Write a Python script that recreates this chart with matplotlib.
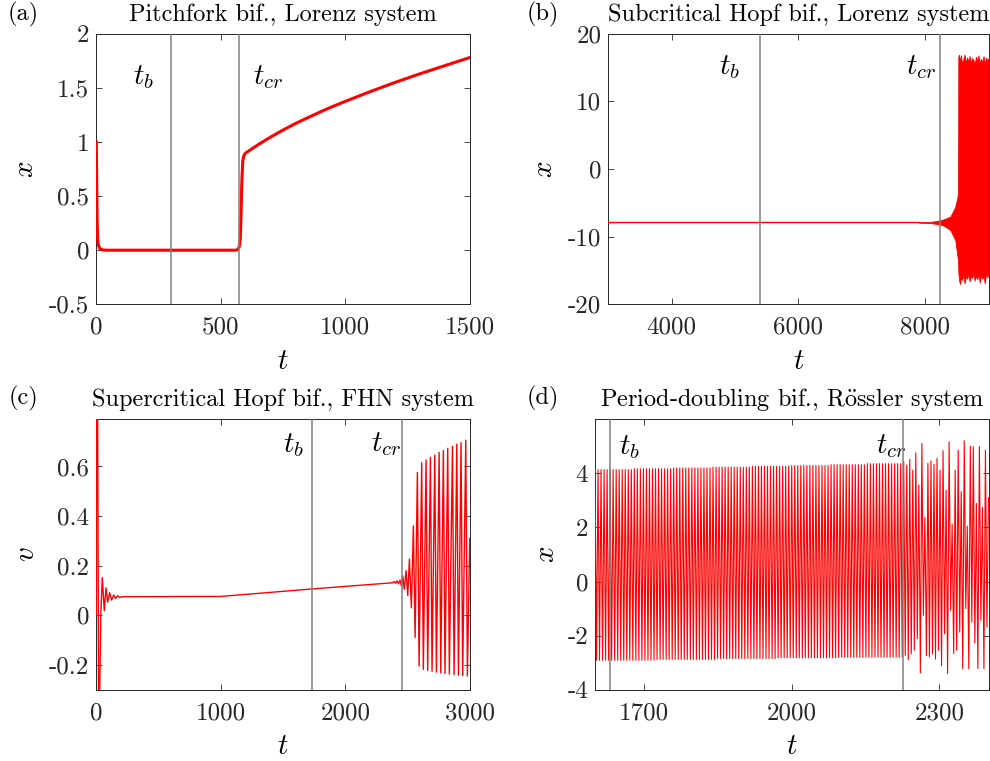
import numpy as np
import matplotlib
matplotlib.use('Agg')
import matplotlib.pyplot as plt

# ---------------- data ----------------
# (a) pitchfork, Lorenz
a_t = [0, 1.5, 3, 5, 8, 14, 25, 40, 560, 568, 574, 578, 581, 584, 588, 592, 598,
       650, 700, 750, 800, 850, 900, 950, 1000, 1100, 1200, 1300, 1400, 1500]
a_x = [1.0, 0.6, 0.3, 0.12, 0.05, 0.015, 0.003, 0.0, 0.0, 0.005, 0.03, 0.1, 0.3, 0.6, 0.82, 0.87, 0.895,
       0.975, 1.045, 1.11, 1.17, 1.225, 1.278, 1.328, 1.375, 1.465, 1.55, 1.63, 1.705, 1.78]
a_tb, a_tcr = 301, 572

# (b) subcritical Hopf, Lorenz
b_base_t = [3000, 7900]
b_base_x = [-7.9, -7.9]
b_flare_t = [7900, 8100, 8230, 8300, 8395, 8474, 8510, 8518]
b_flare_hi = [-7.88, -7.8, -7.6, -7.4, -7.05, -5.6, -4.1, -3.5]
b_flare_lo = [-7.92, -8.0, -8.2, -8.4, -9.0, -10.5, -13.0, -13.5]
b_burst_t = [8522, 8535, 8550, 8565, 8580, 8600, 8620, 8640, 8660, 8680, 8700, 8720, 8740,
             8760, 8780, 8800, 8820, 8840, 8860, 8880, 8900, 8920, 8940, 8960, 8980, 9000]
b_burst_hi = [16.6, 16.9, 15.8, 16.8, 15.5, 16.2, 16.9, 15.7, 16.5, 15.9, 16.7, 15.6, 16.4,
              16.1, 15.5, 16.6, 16.0, 16.8, 15.6, 16.3, 15.8, 16.7, 15.4, 16.5, 15.9, 16.4]
b_burst_lo = [-15.2, -16.5, -17.0, -15.8, -16.4, -15.6, -16.9, -15.9, -16.2, -15.5, -16.6, -15.8, -16.1,
              -15.4, -16.5, -15.7, -16.3, -15.5, -16.8, -15.6, -16.2, -15.9, -16.9, -15.4, -16.0, -15.3]
b_tb, b_tcr = 5400, 8230

# (c) supercritical Hopf, FHN
c_t = [0, 2, 10, 14, 18, 26, 36, 48, 64, 78, 91, 107, 123, 139, 155, 171, 187, 210,
       1000, 1730, 2380, 2392, 2404, 2416, 2428, 2440, 2452, 2462, 2474, 2488, 2502, 2515,
       2531, 2547, 2561, 2579, 2593, 2614, 2627, 2649, 2662, 2684, 2697, 2719, 2732, 2754,
       2767, 2788, 2801, 2823, 2836, 2861, 2874, 2896, 2909, 2930, 2943, 2968, 2981, 3000]
c_v = [0.0, 0.9, 0.85, 0.3, -0.35, -0.35, 0.0, 0.152, 0.019, 0.111, 0.053, 0.091, 0.061, 0.082,
       0.068, 0.079, 0.072, 0.075, 0.076, 0.106, 0.131, 0.136, 0.129, 0.139, 0.127, 0.142, 0.118,
       0.158, 0.105, 0.18, 0.08, 0.226, 0.03, 0.36, -0.09, 0.576, -0.205, 0.615, -0.218, 0.626,
       -0.222, 0.637, -0.226, 0.646, -0.229, 0.657, -0.232, 0.664, -0.235, 0.673, -0.237, 0.681,
       -0.239, 0.69, -0.241, 0.696, -0.243, 0.706, -0.245, 0.31]
c_tb, c_tcr = 1730, 2452

# (d) period doubling, Roessler: one peak and one trough per cycle
d_t0 = 1600
d_period = 6.15
d_peaks = ([4.14] * 13 + [4.17] * 13 + [4.20] * 13 + [4.23] * 13 + [4.26] * 13 + [4.29] * 13
           + [4.32] * 12 + [4.36] * 12
           + [4.43, 4.31, 4.52, 4.12, 4.76, 3.57, 5.11, 2.37, 4.37, 4.46, 4.33, 4.56, 4.12, 4.84,
              3.38, 5.17, 2.12, 4.12, 4.86, 3.32, 5.21, 2.05, 5.01, 4.99, 2.89, 4.99, 2.74, 4.86, 3.1])
d_troughs = ([-2.91] * 20 + [-2.88] * 20 + [-2.85] * 20 + [-2.82] * 20 + [-2.80] * 22
             + [-2.73, -2.89, -2.67, -2.54, -2.11, -3.38, -1.25, -2.74, -2.79, -2.67, -2.87, -2.54,
                -3.12, -1.93, -3.41, -1.06, -2.67, -2.54, -1.87, -3.22, -1.0, -3.22, -1.5, -2.27,
                -3.22, -1.43, -3.22, -1.68])
d_tb, d_tcr = 1630, 2225

# ---------------- style ----------------
plt.rcParams['font.family'] = 'serif'
plt.rcParams['font.serif'] = ['cmr10']
plt.rcParams['mathtext.fontset'] = 'cm'
plt.rcParams['axes.unicode_minus'] = False
plt.rcParams['axes.formatter.use_mathtext'] = True

RED = '#ff0000'
GREY = '#808080'
AX = '#262626'
TICK_FS = 18
TITLE_FS = 17.5
LAB_FS = 21


def style(ax, xlim, ylim, xt, xtl, yt, ytl, xlab_y, ylab_x, ylab):
    ax.set_xlim(*xlim)
    ax.set_ylim(*ylim)
    ax.set_xticks(xt)
    ax.set_xticklabels(xtl)
    ax.set_yticks(yt)
    ax.set_yticklabels(ytl)
    ax.tick_params(direction='in', top=True, right=True, length=4, width=0.6,
                   color=AX, labelsize=TICK_FS, labelcolor='#262626')
    ax.tick_params(axis='x', pad=9)
    ax.tick_params(axis='y', pad=5)
    for s in ax.spines.values():
        s.set_color(AX)
        s.set_linewidth(0.7)
    ax.set_xlabel(r'$t$', fontsize=LAB_FS)
    ax.xaxis.set_label_coords(0.5, xlab_y)
    ax.xaxis.label.set_va('center')
    ax.set_ylabel(ylab, fontsize=LAB_FS)
    ax.yaxis.set_label_coords(ylab_x, 0.5)
    ax.yaxis.label.set_va('center')


def marks(ax, tb, tcr, tb_xy, tcr_xy):
    ax.axvline(tb, color=GREY, lw=1.1, zorder=4)
    ax.axvline(tcr, color=GREY, lw=1.1, zorder=4)
    ax.text(tb_xy[0], tb_xy[1], r'$t_b$', fontsize=LAB_FS, ha='left', va='center')
    ax.text(tcr_xy[0], tcr_xy[1], r'$t_{cr}$', fontsize=LAB_FS, ha='left', va='center')


fig = plt.figure(figsize=(9.9, 7.61), dpi=100)
ax_a = fig.add_axes([0.0973, 0.6001, 0.3772, 0.3556])
ax_b = fig.add_axes([0.6144, 0.6001, 0.3842, 0.3556])
ax_c = fig.add_axes([0.0973, 0.0937, 0.3772, 0.3553])
ax_d = fig.add_axes([0.6010, 0.0937, 0.3977, 0.3553])

# (a)
ax_a.plot(a_t, a_x, color=RED, lw=2.2, zorder=3)
marks(ax_a, a_tb, a_tcr, (147, 1.6), (631, 1.6))
style(ax_a, (0, 1500), (-0.5, 2), [0, 500, 1000, 1500], ['0', '500', '1000', '1500'],
      [-0.5, 0, 0.5, 1, 1.5, 2], ['-0.5', '0', '0.5', '1', '1.5', '2'], -0.212, -0.189, r'$x$')
ax_a.set_title('Pitchfork bif., Lorenz system', fontsize=TITLE_FS, pad=9.5)

# (b)
ax_b.plot(b_base_t, b_base_x, color=RED, lw=1.0, zorder=3)
env_t = b_flare_t + b_burst_t
env_hi = b_flare_hi + b_burst_hi
env_lo = b_flare_lo + b_burst_lo
ax_b.fill_between(env_t, env_lo, env_hi, color=RED, lw=0.6, zorder=3)
marks(ax_b, b_tb, b_tcr, (4746, 15.1), (7691, 15.1))
style(ax_b, (3000, 9000), (-20, 20), [4000, 6000, 8000], ['4000', '6000', '8000'],
      [-20, -10, 0, 10, 20], ['-20', '-10', '0', '10', '20'], -0.212, -0.166, r'$x$')
ax_b.set_title('Subcritical Hopf bif., Lorenz system', fontsize=TITLE_FS, pad=9.5)

# (c)
ax_c.plot(c_t, c_v, color=RED, lw=1.0, zorder=3)
marks(ax_c, c_tb, c_tcr, (1498, 0.686), (2204, 0.69))
style(ax_c, (0, 3000), (-0.3, 0.79), [0, 1000, 2000, 3000], ['0', '1000', '2000', '3000'],
      [-0.2, 0, 0.2, 0.4, 0.6], ['-0.2', '0', '0.2', '0.4', '0.6'], -0.211, -0.186, r'$v$')
ax_c.set_title('Supercritical Hopf bif., FHN system', fontsize=TITLE_FS, pad=9.5)

# (d)
n_tr = len(d_troughs)
t_pk = d_t0 + d_period * np.arange(len(d_peaks))
t_tr = t_pk[:n_tr] + d_period / 2
d_t = np.empty(len(d_peaks) + n_tr)
d_x = np.empty(len(d_peaks) + n_tr)
d_t[0::2] = t_pk
d_x[0::2] = d_peaks
d_t[1::2] = t_tr
d_x[1::2] = d_troughs
ax_d.plot(d_t, d_x, color=RED, lw=0.8, zorder=3)
marks(ax_d, d_tb, d_tcr, (1649, 4.97), (2170, 5.0))
style(ax_d, (1600, 2400), (-4, 6), [1700, 2000, 2300], ['1700', '2000', '2300'],
      [-4, -2, 0, 2, 4], ['-4', '-2', '0', '2', '4'], -0.211, -0.123, r'$x$')
ax_d.set_title('Period-doubling bif., R' + r'$\ddot{\mathrm{o}}$' + 'ssler system',
               fontsize=TITLE_FS, pad=9.5)

# panel letters
fig.text(8 / 990, 1 - 14 / 761, '(a)', fontsize=TITLE_FS, ha='left', va='center')
fig.text(527 / 990, 1 - 14 / 761, '(b)', fontsize=TITLE_FS, ha='left', va='center')
fig.text(9 / 990, 1 - 398 / 761, '(c)', fontsize=TITLE_FS, ha='left', va='center')
fig.text(527 / 990, 1 - 398 / 761, '(d)', fontsize=TITLE_FS, ha='left', va='center')

fig.savefig('out.png', dpi=100)
